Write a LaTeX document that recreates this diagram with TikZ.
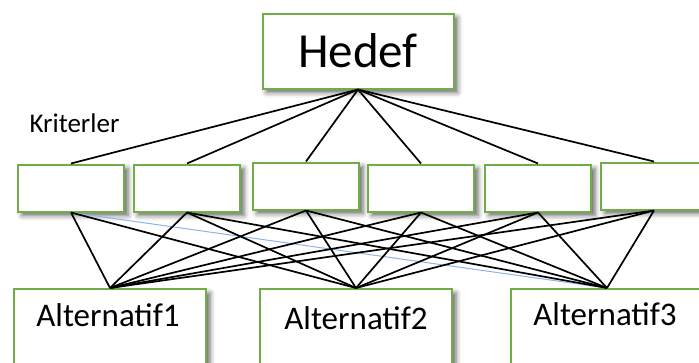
\documentclass[tikz,border=0pt]{standalone}
\usepackage{fontspec}
\setmainfont{Carlito}
\usetikzlibrary{shadows.blur}
\definecolor{boxgreen}{RGB}{112,173,71}
\definecolor{linkblue}{RGB}{140,182,228}
\tikzset{
  box/.style={draw=boxgreen, line width=2pt, fill=white, inner sep=0pt,
    blur shadow={shadow xshift=4pt, shadow yshift=-4pt, shadow blur radius=5pt, shadow opacity=60}},
  critbox/.style={box, minimum width=106pt, minimum height=47pt},
  altbox/.style={box, minimum width=192pt, minimum height=100pt, anchor=north},
  alttext/.style={font=\fontsize{33}{36}\selectfont, anchor=base},
  link/.style={line width=1.7pt, black},
  softlink/.style={line width=1pt, linkblue}
}
\begin{document}
\begin{tikzpicture}[x=1pt, y=-1pt]
  \useasboundingbox (0,0) rectangle (699,362);
  \clip (0,0) rectangle (699,362);

  % goal
  \node[box, minimum width=191pt, minimum height=75pt, font=\fontsize{49}{52}\selectfont]
    (goal) at (358,51) {Hedef};

  \node[font=\fontsize{27}{30}\selectfont, anchor=base west] (crit) at (26,132) {Kriterler};

  % criteria
  \node[critbox] (c1) at (71,188) {};
  \node[critbox] (c2) at (187,188) {};
  \node[critbox] (c3) at (306,186) {};
  \node[critbox] (c4) at (421,188) {};
  \node[critbox] (c5) at (538,188) {};
  \node[critbox] (c6) at (654,186) {};

  % alternatives
  \node[altbox] (a1) at (110,288) {};
  \node[altbox] (a2) at (356,288) {};
  \node[altbox] (a3) at (607,288) {};
  \node[alttext] (t1) at (108,326) {Alternatif1};
  \node[alttext] (t2) at (356,329) {Alternatif2};
  \node[alttext] (t3) at (605,325) {Alternatif3};

  % goal to criteria
  \foreach \c in {c1,c2,c3,c4,c5,c6}
    \draw[link] (goal.south) -- (\c.north);

  % criteria to alternatives
  \draw[softlink] (c1.south) -- (a3.north);
  \draw[link] (c1.south) -- (a1.north);
  \draw[link] (c1.south) -- (a2.north);
  \foreach \c in {c2,c3,c4,c5,c6}
    \foreach \a in {a1,a2,a3}
      \draw[link] (\c.south) -- (\a.north);
\end{tikzpicture}
\end{document}
